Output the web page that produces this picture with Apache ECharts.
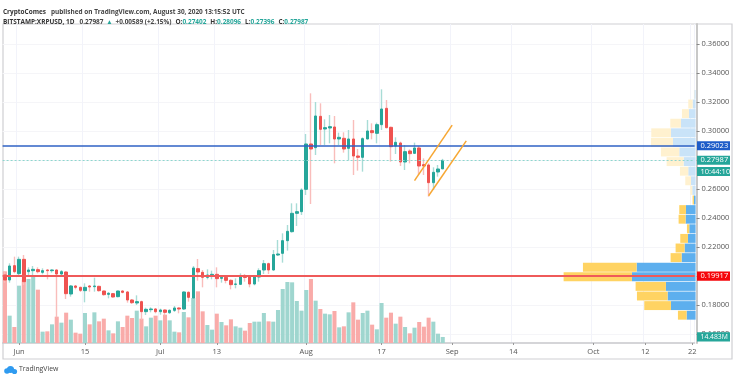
<!DOCTYPE html>
<html>
<head>
<meta charset="utf-8">
<style>html,body{margin:0;padding:0;background:#fff}#c{width:736px;height:380px}</style>
<script src="https://cdn.jsdelivr.net/npm/echarts@6/dist/echarts.min.js"></script>
</head>
<body>
<div id="c"></div>
<script>
// [open, close, low, high], 29 May 2020 to 30 Aug 2020
const ohlc = [
[.20082,.19737,.19553,.20312],[.19737,.20703,.19553,.20887],[.20726,.20312,.20197,.21347],[.20174,.21163,.20082,.21347],
[.21163,.19622,.19392,.21462],[.20312,.20427,.20082,.20611],[.20381,.20473,.20082,.20703],[.2045,.20312,.20197,.20611],
[.20266,.20381,.20128,.20542],[.20427,.20381,.19783,.20473],[.20381,.20427,.20243,.20473],[.20427,.20151,.17161,.20473],
[.20151,.20312,.19967,.20427],[.20289,.18794,.18426,.20335],[.18771,.19323,.18587,.19392],[.19323,.19231,.19093,.19392],
[.19231,.19024,.18909,.19277],[.19001,.19231,.18196,.19507],[.19323,.19254,.18932,.19392],[.19277,.19323,.18932,.19898],
[.193,.19001,.18932,.19346],[.18978,.18725,.18656,.19001],[.18748,.18817,.18472,.18909],[.18794,.18564,.18518,.1884],
[.18587,.18978,.18541,.19001],[.18978,.18886,.18817,.19024],[.18909,.18357,.18173,.18978],[.18357,.18173,.18081,.18426],
[.1815,.18242,.18012,.18679],[.18242,.17552,.16977,.18311],[.17552,.17713,.17322,.17828],[.1769,.17736,.17506,.17851],
[.17736,.17552,.17437,.17805],[.17552,.17667,.17345,.17759],[.17667,.17506,.17299,.17713],[.17483,.17644,.17391,.17713],
[.17644,.17805,.17529,.17943],[.17805,.17736,.17437,.17851],[.17736,.18909,.17667,.18955],[.18886,.18541,.18242,.18955],
[.18495,.20565,.18357,.20703],[.20519,.20289,.19691,.21186],[.20266,.19921,.19231,.20427],[.19921,.20082,.19783,.20473],
[.20059,.20128,.19783,.20381],[.20128,.19829,.19231,.20611],[.19852,.19921,.19553,.20082],[.19921,.19714,.19507,.20013],
[.19714,.19415,.19093,.19783],[.19438,.19461,.19162,.19852],[.19438,.19967,.19392,.20197],[.19944,.19921,.19622,.20151],
[.19944,.19461,.19231,.20082],[.19461,.19944,.19369,.20082],[.19944,.20381,.19622,.20542],[.20427,.20864,.20151,.21117],
[.20864,.20427,.20151,.20933],[.20427,.2149,.20381,.21807],[.21462,.21531,.21393,.22497],[.21577,.22451,.20933,.22957],
[.22451,.23095,.21761,.23532],[.23072,.24337,.23003,.25027],[.24337,.24452,.23463,.25027],[.24452,.25947,.24222,.26062],
[.25993,.29121,.25602,.29811],[.29121,.28776,.24981,.32617],[.28868,.31053,.28362,.32019],[.3103,.30133,.29052,.31927],
[.30156,.30248,.29052,.30823],[.30225,.30317,.29167,.31122],[.30294,.29466,.27787,.31053],[.29466,.29581,.29052,.29903],
[.29512,.28776,.28523,.29926],[.28822,.29466,.27997,.30087],[.29466,.28293,.26982,.30777],[.28293,.28201,.27281,.28776],
[.28201,.29489,.27212,.29581],[.29466,.30018,.29443,.30777],[.30041,.29903,.29443,.30547],[.29857,.30455,.29167,.30593],
[.30455,.31536,.30087,.32893],[.31582,.30248,.30202,.32157],[.30271,.28937,.27902,.30317],[.2898,.29236,.28431,.29581],
[.2919,.27879,.27603,.29282],[.27879,.28592,.27327,.29052],[.28638,.28454,.27787,.28753],[.28477,.28845,.28431,.29213],
[.28845,.27603,.26982,.28983],[.27695,.27603,.26982,.28132],[.27672,.26453,.25487,.27787],[.26453,.27166,.25947,.27511],
[.27189,.27396,.26867,.27672],[.27402,.27987,.27396,.28096]
];
// traded volume in millions, same days
const volumes = [
172,65.6,38.4,137.6,152,153.6,160,128,27.2,28,44.8,63.2,48.8,72.8,56,24.8,22.4,72,44.8,73.6,52,58.4,30.4,23.2,52,38.4,65.6,60,77.6,58.4,
40,60.8,65.6,54.4,68,54.4,27.2,25.6,74.4,61.6,108,124,76,43.2,32,70.4,50.4,42.4,56.8,40,36.8,29.6,48,51.2,51.2,72,52,51.2,79.2,129.6,
146.4,145.6,100.8,77.6,127.2,153.6,101.6,81.6,70.4,68.8,76.8,37.6,40,73.6,97.6,56,72,77.6,44,32.8,96,60.8,72.8,46.4,63.2,38.4,23.2,36.8,50.4,39.2,
60.8,51.2,22.4,14.483
];
// volume profile rows, bottom to top
const profileRows = ['.1731','.1797','.1863','.1930','.1996','.2062','.2128','.2195','.2261','.2327','.2393','.2459','.2525','.2592','.2658','.2724','.2790','.2856','.2923','.2989','.3055','.3121','.3187','.3254'];
const profileUp = [27,74,84,89,191,177,42,33,23,19,30,29,5,10,14,22,36,49,68,74,44,20,9,4];
const profileDown = [26,80,92,91,205,161,33,27,23,7,21,20,4,6,17,25,51,55,66,59,32,21,13,1];
const priceTicks = [0.16,0.18,0.2,0.22,0.24,0.26,0.28,0.3,0.32,0.34,0.36];
const tickDates = ['2020-06-01','2020-06-15','2020-07-01','2020-07-13','2020-08-01','2020-08-17','2020-09-01','2020-09-14','2020-10-01','2020-10-12','2020-10-22'];
const tickLabels = ['Jun','15','Jul','13','Aug','17','Sep','14','Oct','12','22'];
const lastClose = 0.27987, bluePrice = 0.29023, redPrice = 0.19917, lastVolume = 14.483;
const channelUpper = [['2020-08-24',0.2659],['2020-09-01',0.3042]];
const channelLower = [['2020-08-27',0.2555],['2020-09-04',0.2934]];

const categories = [];
for (let d = new Date(Date.UTC(2020,4,29)); d <= new Date(Date.UTC(2020,9,22)); d.setUTCDate(d.getUTCDate()+1)) {
  categories.push(d.toISOString().slice(0,10));
}
const FONT = '"Open Sans", sans-serif';
const UP = '#26A69A', DOWN = '#EF5350';
const isTick = (i) => tickDates.includes(categories[i]);
const tag = (bg, text, size) => ({show:true, position:'end', distance:2.4, formatter:text, color:'#fff', backgroundColor:bg, fontSize:size||7.5, fontFamily:FONT, width:26, align:'left', padding:[1.2,3.5,1,3.5], lineHeight:7});
const pale = 13;
const HEAD = 6.45;
const headRich = {
  b:{fontFamily:FONT,fontSize:HEAD,fontWeight:'bold',color:'#333'},
  n:{fontFamily:FONT,fontSize:HEAD,color:'#444'},
  v:{fontFamily:FONT,fontSize:HEAD,color:UP},
  a:{fontFamily:FONT,fontSize:HEAD,color:UP,width:12,align:'center'},
  s:{fontFamily:FONT,fontSize:HEAD,width:4}
};

const chart = echarts.init(document.getElementById('c'), null, {renderer:'canvas'});
chart.setOption({
  animation:false,
  backgroundColor:'#fff',
  title:[
    {left:3, top:3, padding:0, text:'{b|CryptoComes} {n|published on TradingView.com, August 30, 2020 13:15:52 UTC}',
     textStyle:{rich:headRich}},
    {left:3, top:13, padding:0, text:'{b|BITSTAMP:XRPUSD, 1D} {n|0.27987}{a|▲}{n|+0.00589 (+2.15%)}{s| }{b|O:}{v|0.27402}{s| }{b|H:}{v|0.28096}{s| }{b|L:}{v|0.27396}{s| }{b|C:}{v|0.27987}',
     textStyle:{rich:headRich}},
    {left:19, top:366, padding:0, text:'TradingView', textStyle:{fontFamily:FONT,fontSize:6.9,fontWeight:'normal',color:'#444'}}
  ],
  grid:[
    {left:2.6, top:24, width:692, height:319},
    {left:3, top:89.6, width:692.6, height:230.4}
  ],
  xAxis:[
    {type:'category', gridIndex:0, data:categories, boundaryGap:true,
     axisLine:{lineStyle:{color:'#C8C8CC',width:1.5}},
     axisTick:{show:true, alignWithLabel:true, length:2, interval:(i)=>isTick(i), lineStyle:{color:'#999'}},
     splitLine:{show:true, interval:(i)=>isTick(i), lineStyle:{color:'#F2F3FA',width:1}},
     axisLabel:{interval:(i)=>isTick(i), formatter:(v)=>tickLabels[tickDates.indexOf(v)], color:'#555', fontSize:7.5, fontFamily:FONT, margin:5}},
    {type:'value', gridIndex:1, inverse:true, min:0, max:2078, show:false}
  ],
  yAxis:[
    {type:'value', gridIndex:0, position:'right', offset:2, min:0.1539, max:0.374, scale:true,
     axisLine:{show:true, lineStyle:{color:'#C8C8C8',width:2}},
     axisTick:{show:true, length:3, lineStyle:{color:'#888'}, customValues:priceTicks},
     splitLine:{show:true, lineStyle:{color:'#F5F5F8',width:1}},
     axisLabel:{customValues:priceTicks, formatter:(v)=>v.toFixed(5), color:'#555', fontSize:7.5, fontFamily:FONT, margin:5}},
    {type:'value', gridIndex:0, min:0, max:765.6, show:false},
    {type:'category', gridIndex:1, data:profileRows, show:false}
  ],
  series:[
    {name:'Profile up', type:'bar', xAxisIndex:1, yAxisIndex:2, stack:'p', z:1, barCategoryGap:'7%', silent:true,
     data:profileUp.map((v,i)=>({value:v,itemStyle:{color:i>=pale?'#C9E3F8':'#5DAFEE'}}))},
    {name:'Profile down', type:'bar', xAxisIndex:1, yAxisIndex:2, stack:'p', z:1, barCategoryGap:'7%', silent:true,
     data:profileDown.map((v,i)=>({value:v,itemStyle:{color:i>=pale?'#FFF1CF':'#FFD362'}}))},
    {name:'Volume', type:'bar', xAxisIndex:0, yAxisIndex:1, z:2, barCategoryGap:'14%', silent:true,
     data:volumes.map((v,i)=>({value:v,itemStyle:{color:ohlc[i][1]>=ohlc[i][0]?'#9FD6CF':'#F9ABA9'}})),
     markLine:{silent:true, symbol:'none', z:6, data:[{yAxis:lastVolume, lineStyle:{color:'rgba(0,0,0,0)',width:1,type:'solid'}, label:tag(UP,'14.483M',6.8)}]}},
    {name:'Wicks', type:'candlestick', xAxisIndex:0, yAxisIndex:0, z:3, barWidth:0.8, silent:true,
     itemStyle:{color:'#A8DCD6',color0:'#F9BDBB',borderColor:'#A8DCD6',borderColor0:'#F9BDBB',borderWidth:1.4},
     data:ohlc},
    {name:'Bodies', type:'candlestick', xAxisIndex:0, yAxisIndex:0, z:4, barWidth:3, silent:true,
     itemStyle:{color:UP,color0:DOWN,borderColor:UP,borderColor0:DOWN,borderWidth:1},
     data:ohlc.map(r=>[r[0],r[1],Math.min(r[0],r[1]),Math.max(r[0],r[1])]),
     markLine:{silent:true, symbol:'none', z:5, data:[
       {yAxis:lastClose, lineStyle:{color:'#8ED6CE',type:[2,2],width:1}, label:tag(UP,'0.27987')},
       {yAxis:bluePrice, lineStyle:{color:'#2F62C4',type:'solid',width:1.6}, label:tag('#1E5CC8','0.29023')},
       {yAxis:redPrice, lineStyle:{color:'#EF5A5A',type:'solid',width:2}, label:tag('#F5060B','0.19917')},
       [{coord:channelUpper[0],lineStyle:{color:'#F7A733',type:'solid',width:1.5},label:{show:false}},{coord:channelUpper[1]}],
       [{coord:channelLower[0],lineStyle:{color:'#F7A733',type:'solid',width:1.5},label:{show:false}},{coord:channelLower[1]}]
     ]}}
  ],
  graphic:[
    {type:'rect', z:0, silent:true, shape:{x:3,y:24,width:729,height:335}, style:{fill:'none',stroke:'#CFCFD3',lineWidth:1.2}},
    {type:'rect', z:100, silent:true, shape:{x:697,y:167,width:33,height:9}, style:{fill:UP}},
    {type:'text', z:101, silent:true, x:700.5, y:167.6, style:{text:'10:44:10',fill:'#fff',font:'7.5px "Open Sans", sans-serif'}},
    {type:'circle', z:100, silent:true, shape:{cx:7,cy:371,r:2.8}, style:{fill:'#2F9BF0'}},
    {type:'circle', z:100, silent:true, shape:{cx:10.5,cy:369.5,r:3.6}, style:{fill:'#2F9BF0'}},
    {type:'circle', z:100, silent:true, shape:{cx:14.5,cy:371.5,r:2.6}, style:{fill:'#2F9BF0'}}
  ]
});
</script>
</body>
</html>
